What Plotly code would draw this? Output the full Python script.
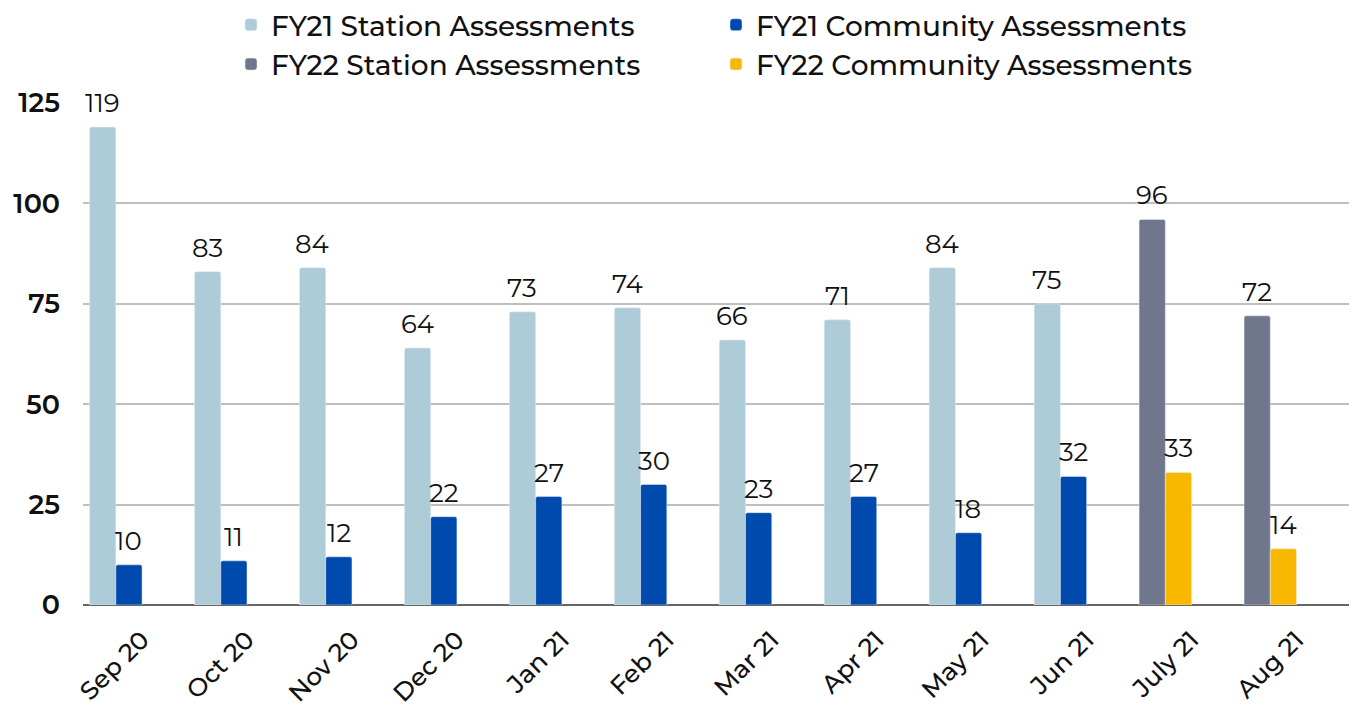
import plotly.graph_objects as go

months = ['Sep 20', 'Oct 20', 'Nov 20', 'Dec 20', 'Jan 21', 'Feb 21',
          'Mar 21', 'Apr 21', 'May 21', 'Jun 21', 'July 21', 'Aug 21']
fy21_station = [119, 83, 84, 64, 73, 74, 66, 71, 84, 75, None, None]
fy21_community = [10, 11, 12, 22, 27, 30, 23, 27, 18, 32, None, None]
fy22_months = ['July 21', 'Aug 21']
fy22_station = [96, 72]
fy22_community = [33, 14]

FONT = "Montserrat, Noto Sans, sans-serif"
W, H = 1356, 717
L, R, T, B = 83, 7, 103, 112
CAT_W = (W - L - R) / len(months)

fig = go.Figure()


def add_bars(name, x, y, color, offset):
    fig.add_trace(go.Bar(
        name=name, x=x, y=y,
        marker=dict(color=color, cornerradius=2),
        width=0.25, offset=offset, cliponaxis=False,
    ))
    # value labels sit a little higher than plotly's default outside text
    for xi, yi in zip(x, y):
        if yi is None:
            continue
        fig.add_annotation(
            x=xi, y=yi, text=str(yi), showarrow=False,
            xshift=(offset + 0.125) * CAT_W, yshift=6, yanchor="bottom",
            font=dict(size=26, color="#111111", family=FONT),
        )


add_bars("FY21 Station Assessments", months, fy21_station, "#AECBD8", -0.5)
add_bars("FY21 Community Assessments", months, fy21_community, "#004AAD", -0.25)
add_bars("FY22 Station Assessments", fy22_months, fy22_station, "#70768C", -0.5)
add_bars("FY22 Community Assessments", fy22_months, fy22_community, "#F9B800", -0.25)

fig.update_layout(
    width=W, height=H,
    margin=dict(l=L, r=R, t=T, b=B),
    plot_bgcolor="white", paper_bgcolor="white",
    font=dict(family=FONT, color="#111111"),
    barmode="overlay",
    legend=dict(
        orientation="h", x=0.5, xanchor="center", y=1.0, yanchor="top",
        yref="container", entrywidth=440, entrywidthmode="pixels",
        font=dict(size=28, color="#111111", family=FONT, weight=500),
        itemwidth=30, tracegroupgap=0,
    ),
    showlegend=True,
)

fig.update_xaxes(
    categoryorder="array", categoryarray=months,
    tickangle=-45, tickfont=dict(size=25, family=FONT, color="#111111", weight=500),
    showgrid=False, showline=False, ticks="", automargin=False,
    ticklabelstandoff=14,
)
fig.update_yaxes(
    range=[0, 125], tickvals=[0, 25, 50, 75, 100, 125],
    tickfont=dict(size=27, family=FONT, color="#111111", weight=600),
    showgrid=True, gridcolor="#BFBFBF", gridwidth=2,
    zeroline=True, zerolinecolor="#666666", zerolinewidth=2,
    ticklabelstandoff=22, automargin=False,
)

# drop the default 8px page margin so the figure fills the window
fig.write_html("out.html", config={"displayModeBar": False},
               post_script="document.body.style.margin='0';")
